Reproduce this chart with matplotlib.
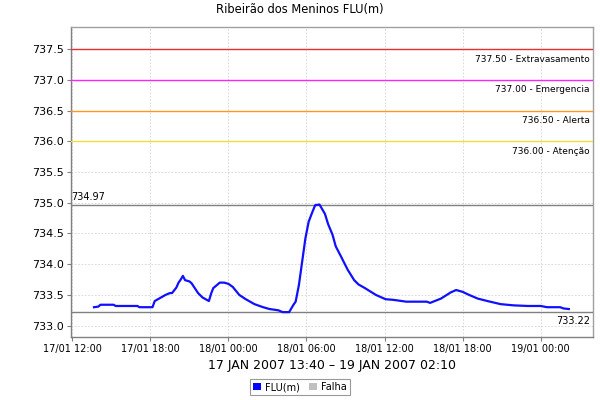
import matplotlib
matplotlib.use("Agg")
import matplotlib.pyplot as plt
import matplotlib.dates as mdates
from matplotlib.patches import Patch
import pandas as pd

# FLU(m) readings
times = [
    "2007-01-17 13:40", "2007-01-17 14:00", "2007-01-17 14:10", "2007-01-17 15:10",
    "2007-01-17 15:20", "2007-01-17 17:00", "2007-01-17 17:10", "2007-01-17 18:10",
    "2007-01-17 18:20", "2007-01-17 18:50", "2007-01-17 19:10", "2007-01-17 19:30",
    "2007-01-17 19:40", "2007-01-17 20:00", "2007-01-17 20:10", "2007-01-17 20:20",
    "2007-01-17 20:30", "2007-01-17 20:40", "2007-01-17 21:00", "2007-01-17 21:10",
    "2007-01-17 21:40", "2007-01-17 22:00", "2007-01-17 22:20", "2007-01-17 22:30",
    "2007-01-17 22:40", "2007-01-17 22:50", "2007-01-17 23:10", "2007-01-17 23:20",
    "2007-01-17 23:40", "2007-01-18 00:00", "2007-01-18 00:20", "2007-01-18 00:50",
    "2007-01-18 01:20", "2007-01-18 01:40", "2007-01-18 02:00", "2007-01-18 02:40",
    "2007-01-18 03:10", "2007-01-18 03:50", "2007-01-18 04:10", "2007-01-18 04:40",
    "2007-01-18 05:00", "2007-01-18 05:10", "2007-01-18 05:25", "2007-01-18 05:40",
    "2007-01-18 05:55", "2007-01-18 06:10", "2007-01-18 06:25", "2007-01-18 06:40",
    "2007-01-18 07:00", "2007-01-18 07:10", "2007-01-18 07:25", "2007-01-18 07:40",
    "2007-01-18 08:00", "2007-01-18 08:15", "2007-01-18 08:40", "2007-01-18 09:10",
    "2007-01-18 09:40", "2007-01-18 10:00", "2007-01-18 10:30", "2007-01-18 11:20",
    "2007-01-18 12:05", "2007-01-18 12:40", "2007-01-18 13:40", "2007-01-18 15:15",
    "2007-01-18 15:30", "2007-01-18 16:20", "2007-01-18 17:05", "2007-01-18 17:30",
    "2007-01-18 18:00", "2007-01-18 18:30", "2007-01-18 19:10", "2007-01-18 19:55",
    "2007-01-18 20:55", "2007-01-18 21:55", "2007-01-18 23:00", "2007-01-19 00:00",
    "2007-01-19 00:30", "2007-01-19 01:30", "2007-01-19 01:45", "2007-01-19 02:10",
]
levels = [
    733.30, 733.31, 733.34, 733.34,
    733.32, 733.32, 733.30, 733.30,
    733.40, 733.46, 733.50, 733.53,
    733.53, 733.62, 733.70, 733.75,
    733.81, 733.74, 733.72, 733.69,
    733.53, 733.46, 733.42, 733.40,
    733.52, 733.61, 733.67, 733.70,
    733.70, 733.68, 733.63, 733.50,
    733.43, 733.39, 733.35, 733.30,
    733.27, 733.25, 733.22, 733.22,
    733.34, 733.39, 733.66, 734.04,
    734.42, 734.69, 734.83, 734.96,
    734.97, 734.91, 734.82, 734.65,
    734.48, 734.29, 734.12, 733.91,
    733.74, 733.67, 733.61, 733.50,
    733.43, 733.42, 733.39, 733.39,
    733.37, 733.44, 733.54, 733.58,
    733.55, 733.50, 733.44, 733.40,
    733.35, 733.33, 733.32, 733.32,
    733.30, 733.30, 733.28, 733.27,
]

# alarm thresholds
limit_values = [737.50, 737.00, 736.50, 736.00]
limit_names = ["Extravasamento", "Emergencia", "Alerta", "Atenção"]
limit_colors = ["#e83030", "#ff22ff", "#ff9922", "#f2dc3c"]

max_value = 734.97
min_value = 733.22

title = "Ribeirão dos Meninos FLU(m)"
period = "17 JAN 2007 13:40 – 19 JAN 2007 02:10"

t = pd.to_datetime(times)

fig = plt.figure(figsize=(6, 4), dpi=100)
ax = fig.add_axes([71 / 600, 1 - 336.7 / 400, (592.7 - 71) / 600, (336.7 - 27) / 400])

ax.plot(t, levels, color="#1010ff", linewidth=1.6, zorder=4)

# threshold lines + labels
for val, name, col in zip(limit_values, limit_names, limit_colors):
    ax.axhline(val, color=col, linewidth=1.0, zorder=3)
    ax.annotate("%.2f - %s" % (val, name), xy=(1, val), xycoords=("axes fraction", "data"),
                xytext=(-2, -4), textcoords="offset points", ha="right", va="top",
                fontsize=6.5, color="black")

# max / min markers
ax.axhline(max_value, color="#808080", linewidth=1.0, zorder=3)
ax.axhline(min_value, color="#808080", linewidth=1.0, zorder=3)
ax.annotate("%.2f" % max_value, xy=(0, max_value), xycoords=("axes fraction", "data"),
            xytext=(0, 2), textcoords="offset points", ha="left", va="bottom", fontsize=7)
ax.annotate("%.2f" % min_value, xy=(1, min_value), xycoords=("axes fraction", "data"),
            xytext=(-2, -3), textcoords="offset points", ha="right", va="top", fontsize=7)

ax.set_ylim(732.82, 737.86)
ax.set_yticks([733.0 + 0.5 * i for i in range(10)])
ax.yaxis.set_major_formatter(plt.FormatStrFormatter("%.1f"))

ax.set_xlim(pd.Timestamp("2007-01-17 11:54"), pd.Timestamp("2007-01-19 04:00"))
ax.xaxis.set_major_locator(mdates.HourLocator(byhour=[0, 6, 12, 18]))
ax.xaxis.set_major_formatter(mdates.DateFormatter("%d/%m %H:%M"))

ax.grid(True, color="#d4d4d4", linestyle=(0, (2, 2)), linewidth=0.6)
ax.set_axisbelow(True)
for s in ax.spines.values():
    s.set_color("#a0a0a0")
    s.set_linewidth(1.0)
ax.spines["left"].set_color("#808080")
ax.spines["bottom"].set_color("#808080")
ax.tick_params(axis="y", labelsize=8, length=3, color="#808080", pad=2)
ax.tick_params(axis="x", labelsize=7, length=3, color="#808080", pad=2)

fig.text(0.5, 1 - 10 / 400, title, ha="center", va="center", fontsize=8.3)
fig.text(332 / 600, 1 - 365 / 400, period, ha="center", va="center", fontsize=9)

handles = [Patch(facecolor="#0000ff", edgecolor="none"),
           Patch(facecolor="#c0c0c0", edgecolor="none")]
leg = fig.legend(handles, ["FLU(m)", "Falha"], loc="center", bbox_to_anchor=(300 / 600, 1 - 387 / 400),
                 ncol=2, fontsize=7, frameon=True, fancybox=False, handlelength=0.8, handleheight=0.8,
                 handletextpad=0.4, columnspacing=1.0, borderpad=0.3, borderaxespad=0)
leg.get_frame().set_edgecolor("#808080")
leg.get_frame().set_linewidth(0.8)

fig.savefig("out.png", dpi=100)
